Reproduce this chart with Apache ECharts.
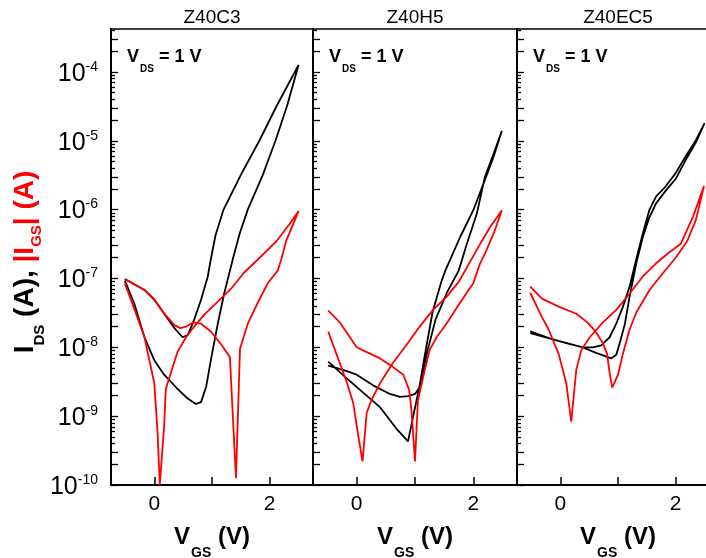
<!DOCTYPE html>
<html>
<head>
<meta charset="utf-8">
<script src="https://cdn.jsdelivr.net/npm/echarts@6/dist/echarts.min.js"></script>
<style>html,body{margin:0;padding:0;background:#fff}#c{width:706px;height:558px}</style>
</head>
<body>
<div id="c"></div>
<script>
// ---- data (V_GS in volts, currents in amps) ----
const panelTitles = ['Z40C3', 'Z40H5', 'Z40EC5'];
const yTickValues = [1e-10, 1e-9, 1e-8, 1e-7, 1e-6, 1e-5, 1e-4];
const xLabelValues = [0, 2];
const xTickValues = [0, 1, 2];

const p1BlackV = [-0.51,-0.35,-0.17,0.00,0.17,0.40,0.58,0.72,0.81,0.90,0.98,1.10,1.21,1.36,1.48,1.62,1.88,2.10,2.30,2.50, 2.12,1.82,1.50,1.20,1.06,0.98,0.925,0.81,0.69,0.58,0.49,0.35,0.17,0.00,-0.17,-0.51];
const p1BlackI = [9.3e-8,4.4e-8,1.4e-8,6.5e-9,4.0e-9,2.5e-9,1.8e-9,1.5e-9,1.6e-9,2.7e-9,6.5e-9,2.2e-8,6.0e-8,1.9e-7,4.5e-7,1.0e-6,3.2e-6,1.0e-5,3.2e-5,1.26e-4, 3.2e-5,1.0e-5,3.2e-6,1.0e-6,4.2e-7,1.9e-7,1.05e-7,4.9e-8,2.5e-8,1.5e-8,1.4e-8,1.9e-8,3.1e-8,4.9e-8,6.8e-8,9.8e-8];
const p1RedV = [-0.51,-0.17,0.00,0.17,0.35,0.45,0.55,0.67,0.81,0.98,1.16,1.31,1.415,1.485,1.62,1.79,1.965,2.14,2.20,2.29,2.50, 2.35,2.12,1.80,1.55,1.33,1.10,0.87,0.69,0.55,0.40,0.20,0.17,0.095,0.058,0.00,-0.17,-0.34,-0.51];
const p1RedI = [9.8e-8,6.8e-8,5.0e-8,3.1e-8,2.1e-8,1.9e-8,2.0e-8,2.3e-8,2.2e-8,1.7e-8,1.1e-8,7.2e-9,1.26e-10,9.5e-9,2.2e-8,4.4e-8,8.5e-8,1.3e-7,1.9e-7,3.6e-7,9.5e-7, 6.3e-7,3.5e-7,1.9e-7,1.2e-7,7.1e-8,4.6e-8,3.0e-8,2.0e-8,1.4e-8,8.5e-9,2.5e-9,7e-10,1.0e-10,5.6e-10,3.0e-9,1.4e-8,3.5e-8,8.5e-8];

const p2BlackV = [-0.49,-0.18,0.11,0.40,0.68,0.88,0.97,1.08,1.15,1.30,1.45,1.52,1.775,2.00,2.20,2.35,2.49, 2.35,2.20,2.06,1.89,1.75,1.55,1.35,1.20,1.09,1.00,0.88,0.74,0.57,0.28,0.00,-0.235,-0.49];
const p2BlackI = [6.2e-9,3.6e-9,2.2e-9,1.35e-9,6.6e-10,4.3e-10,1.0e-9,2.8e-9,6.3e-9,3.2e-8,8.9e-8,1.3e-7,4.0e-7,9.8e-7,2.7e-6,5.9e-6,1.4e-5, 6.5e-6,3.0e-6,8.7e-7,3.2e-7,1.3e-7,6.3e-8,2.5e-8,7.9e-9,2.7e-9,2.1e-9,1.95e-9,1.9e-9,2.1e-9,2.8e-9,4.0e-9,4.7e-9,5.4e-9];
const p2RedV = [-0.49,-0.29,0.00,0.17,0.40,0.62,0.80,0.90,0.94,1.00,1.05,1.14,1.25,1.37,1.54,1.77,2.00,2.11,2.20,2.35,2.49, 2.29,2.12,1.92,1.75,1.54,1.31,1.08,0.85,0.62,0.40,0.25,0.17,0.10,0.02,-0.06,-0.18,-0.35,-0.49];
const p2RedI = [3.4e-8,2.3e-8,1.0e-8,8.5e-9,6.9e-9,5.2e-9,4.0e-9,2.4e-9,1.2e-9,2.2e-10,1.7e-9,3.7e-9,9.1e-9,1.4e-8,2.2e-8,4.4e-8,8.5e-8,1.6e-7,2.3e-7,4.5e-7,9.8e-7, 5.6e-7,3.2e-7,1.6e-7,8.9e-8,5.4e-8,3.5e-8,2.0e-8,1.07e-8,5.9e-9,3.0e-9,1.7e-9,1.1e-9,2.2e-10,5.6e-10,1.55e-9,3.3e-9,8.1e-9,1.7e-8];

const p3BlackV = [-0.52,0.39,0.62,0.884,0.97,1.03,1.12,1.20,1.317,1.43,1.546,1.66,1.83,2.00,2.17,2.35,2.50, 2.35,2.17,2.00,1.83,1.66,1.546,1.43,1.317,1.20,1.086,0.97,0.855,0.71,0.566,0.393,0.104,-0.185,-0.52];
const p3BlackI = [1.6e-8,1.0e-8,8.3e-9,6.9e-9,7.8e-9,1.15e-8,2.2e-8,5.4e-8,1.66e-7,4.0e-7,7.8e-7,1.23e-6,1.9e-6,2.8e-6,5.2e-6,9.5e-6,1.8e-5, 1.02e-5,5.9e-6,3.4e-6,2.2e-6,1.55e-6,1.0e-6,4.5e-7,1.9e-7,7.6e-8,3.9e-8,2.2e-8,1.4e-8,1.07e-8,1.0e-8,1.0e-8,1.15e-8,1.35e-8,1.7e-8];
const p3RedV = [-0.52,-0.318,-0.03,0.27,0.47,0.61,0.737,0.81,0.855,0.90,1.00,1.086,1.20,1.317,1.546,1.78,2.00,2.20,2.35,2.49, 2.30,2.09,1.89,1.66,1.43,1.20,0.97,0.74,0.51,0.364,0.277,0.19,0.104,-0.03,-0.20,-0.318,-0.52];
const p3RedI = [7.6e-8,5.1e-8,3.9e-8,3.1e-8,2.3e-8,1.7e-8,1.15e-8,8.1e-9,4.2e-9,2.6e-9,4.0e-9,8.1e-9,1.8e-8,3.2e-8,6.8e-8,1.2e-7,2.0e-7,3.5e-7,7.1e-7,2.2e-6, 7.9e-7,3.2e-7,2.4e-7,1.66e-7,1.07e-7,6.0e-8,3.5e-8,2.3e-8,1.4e-8,9.1e-9,4.7e-9,8.3e-10,3.0e-9,8.1e-9,1.8e-8,2.75e-8,6.2e-8];

// ---- build ----
const panels = [
  {bv: p1BlackV, bi: p1BlackI, rv: p1RedV, ri: p1RedI},
  {bv: p2BlackV, bi: p2BlackI, rv: p2RedV, ri: p2RedI},
  {bv: p3BlackV, bi: p3BlackI, rv: p3RedV, ri: p3RedI}
];
const gridBoxes = [
  {left: 111, width: 202},
  {left: 313, width: 204},
  {left: 517, width: 202}
];
const TOP = 29, HEIGHT = 456;
const XMIN = -0.75, XMAX = 2.75, YMIN = 1e-10, YMAX = 4.2e-4;
const FONT = '"Liberation Sans", Arial, sans-serif';

// tick positions 2x and 3x per decade (long), 4x..9x (short)
const midTicks = [], shortTicks = [];
for (let e = -10; e <= -4; e++) {
  for (let k = 2; k <= 9; k++) {
    const v = k * Math.pow(10, e);
    if (v > YMAX) continue;
    (k <= 3 ? midTicks : shortTicks).push(v);
  }
}
const majorTicks = yTickValues.concat(midTicks);

const zip = (a, b) => a.map((v, i) => [v, b[i]]);

const grid = [], xAxis = [], yAxis = [], series = [];
gridBoxes.forEach((g, i) => {
  grid.push({left: g.left, width: g.width, top: TOP, height: HEIGHT, containLabel: false, outerBoundsMode: 'none'});
  xAxis.push({
    type: 'value', gridIndex: i, min: XMIN, max: XMAX, position: 'bottom',
    axisLine: {show: true, onZero: false, lineStyle: {color: '#000', width: 2}},
    axisTick: {show: true, inside: true, length: 8, customValues: xTickValues, lineStyle: {color: '#000', width: 1.5}},
    axisLabel: {show: true, customValues: xLabelValues, fontSize: 21, color: '#000', fontFamily: FONT, margin: 9},
    splitLine: {show: false},
    name: '{v|V}{s|GS}{v| (V)}', nameLocation: 'middle', nameGap: 30,
    nameTextStyle: {
      rich: {
        v: {fontSize: 24, fontWeight: 'bold', color: '#000', fontFamily: FONT},
        s: {fontSize: 14, fontWeight: 'bold', color: '#000', fontFamily: FONT, padding: [31, 0, 0, 1]}
      }
    }
  });
  xAxis.push({
    type: 'value', gridIndex: i, min: XMIN, max: XMAX, position: 'top',
    axisLine: {show: true, onZero: false, lineStyle: {color: '#000', width: 1.5}},
    axisTick: {show: false}, axisLabel: {show: false}, splitLine: {show: false}
  });
  yAxis.push({
    type: 'log', logBase: 10, gridIndex: i, min: YMIN, max: YMAX, position: 'left',
    axisLine: {show: true, onZero: false, lineStyle: {color: '#000', width: 2}},
    axisTick: {show: true, inside: true, length: 7, customValues: majorTicks, lineStyle: {color: '#000', width: 1.3}},
    axisLabel: {
      show: i === 0, customValues: yTickValues, margin: 13,
      formatter: function (v) { return '{b|10}{s|' + Math.round(Math.log10(v)) + '}'; },
      rich: {
        b: {fontSize: 25, color: '#000', fontFamily: FONT, padding: [4, 0, 0, 0]},
        s: {fontSize: 14, color: '#000', fontFamily: FONT, padding: [0, 0, 10, 0]}
      }
    },
    splitLine: {show: false}, minorTick: {show: false}
  });
  yAxis.push({
    type: 'log', logBase: 10, gridIndex: i, min: YMIN, max: YMAX, position: 'left',
    axisLine: {show: false, onZero: false},
    axisTick: {show: true, inside: true, length: 4, customValues: shortTicks, lineStyle: {color: '#000', width: 1.3}},
    axisLabel: {show: false}, splitLine: {show: false}
  });
  const p = panels[i];
  series.push({
    type: 'line', xAxisIndex: 2 * i, yAxisIndex: 2 * i, data: zip(p.bv, p.bi),
    showSymbol: false, symbol: 'none', clip: true,
    lineStyle: {color: '#000', width: 1.8}
  });
  series.push({
    type: 'line', xAxisIndex: 2 * i, yAxisIndex: 2 * i, data: zip(p.rv, p.ri),
    showSymbol: false, symbol: 'none', clip: true,
    lineStyle: {color: '#ff0000', width: 1.8}
  });
});

const graphic = [];
gridBoxes.forEach((g, i) => {
  graphic.push({
    type: 'text', x: g.left + g.width / 2, y: 18,
    style: {text: panelTitles[i], font: '19px ' + FONT, fill: '#000', align: 'center', verticalAlign: 'middle'}
  });
  graphic.push({
    type: 'text', x: g.left + 16, y: 57,
    style: {
      text: '{v|V}{s|DS}{v| = 1 V}', align: 'left', verticalAlign: 'middle',
      rich: {
        v: {fontSize: 18, fontWeight: 'bold', fill: '#000', fontFamily: FONT},
        s: {fontSize: 10, fontWeight: 'bold', fill: '#000', fontFamily: FONT, padding: [24, 0, 0, 1]}
      }
    }
  });
});
graphic.push({
  type: 'text', x: 25, y: 262, rotation: Math.PI / 2,
  style: {
    text: '{k|I}{ks|DS}{k| (A), }{r||I}{rs|GS}{r|| (A)}',
    align: 'center', verticalAlign: 'middle',
    rich: {
      k: {fontSize: 28, fontWeight: 'bold', fill: '#000', fontFamily: FONT},
      ks: {fontSize: 15, fontWeight: 'bold', fill: '#000', fontFamily: FONT, padding: [30, 0, 0, 0]},
      r: {fontSize: 28, fontWeight: 'bold', fill: '#ff0000', fontFamily: FONT},
      rs: {fontSize: 15, fontWeight: 'bold', fill: '#ff0000', fontFamily: FONT, padding: [24, 0, 0, 0]}
    }
  }
});

const chart = echarts.init(document.getElementById('c'), null, {renderer: 'canvas'});
chart.setOption({
  animation: false,
  backgroundColor: '#fff',
  grid, xAxis, yAxis, series, graphic
});
</script>
</body>
</html>
